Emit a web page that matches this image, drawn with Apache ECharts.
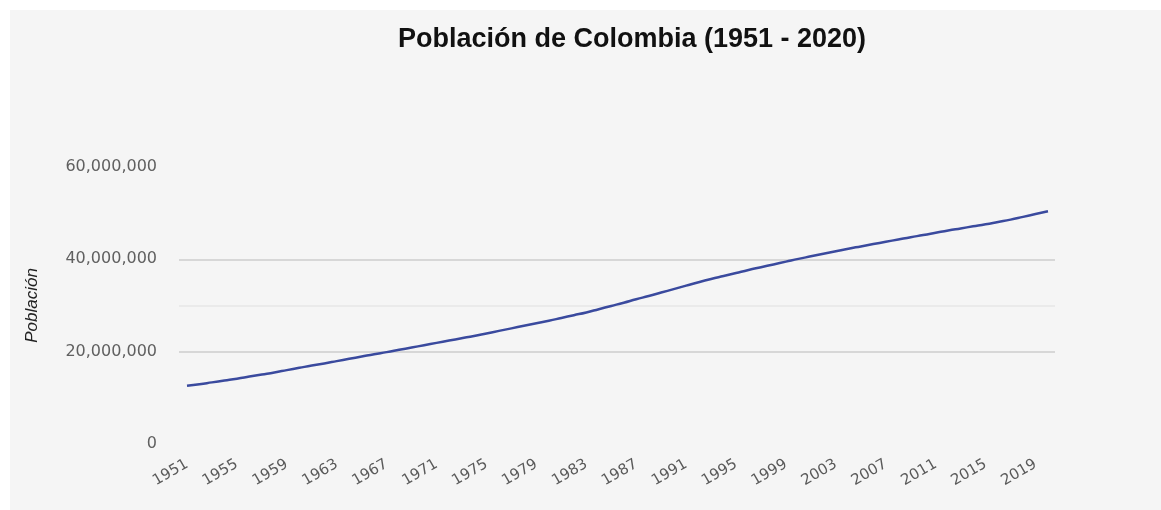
<!DOCTYPE html>
<html>
<head>
<meta charset="utf-8">
<title>Población de Colombia (1951 - 2020)</title>
<script src="https://cdn.jsdelivr.net/npm/echarts@6/dist/echarts.min.js"></script>
<style>
  html, body { margin: 0; padding: 0; background: #ffffff; }
  #chart { position: absolute; left: 10px; top: 10px; width: 1151px; height: 500px; background: #f5f5f5; }
</style>
</head>
<body>
<div id="chart"></div>
<script>
// Años de la serie (1951 - 2020)
const years = [];
for (let y = 1951; y <= 2020; y++) years.push(String(y));

// Población total por año
const population = [
  12600000, 12950000, 13350000, 13750000, 14150000, 14600000, 15050000, 15500000, 16000000, 16500000,
  17000000, 17450000, 17950000, 18450000, 18950000, 19450000, 19900000, 20400000, 20900000, 21400000,
  21900000, 22400000, 22900000, 23400000, 23950000, 24500000, 25050000, 25600000, 26150000, 26700000,
  27300000, 27900000, 28500000, 29200000, 29900000, 30600000, 31350000, 32050000, 32800000, 33550000,
  34300000, 35050000, 35750000, 36400000, 37050000, 37700000, 38300000, 38900000, 39500000, 40100000,
  40650000, 41200000, 41750000, 42300000, 42800000, 43300000, 43800000, 44300000, 44800000, 45250000,
  45750000, 46250000, 46700000, 47150000, 47600000, 48100000, 48600000, 49200000, 49800000, 50400000
];

// Escala del eje de población
const yMin = 0;
const yMax = 60000000;
const yStep = 10000000;
const yLabelStep = 20000000;

const titleText = 'Población de Colombia (1951 - 2020)';
const yAxisTitle = 'Población';

const chart = echarts.init(document.getElementById('chart'), null, { renderer: 'canvas' });

const labelFont = '"DejaVu Sans", sans-serif';

chart.setOption({
  backgroundColor: '#f5f5f5',
  animation: false,
  graphic: [{
    type: 'text',
    x: 622,
    y: 30,
    style: {
      text: titleText,
      font: 'bold 27px "Liberation Sans", Arial, sans-serif',
      fill: '#111111',
      align: 'center',
      verticalAlign: 'middle'
    }
  }],
  grid: [
    // cuadrícula de fondo con las líneas horizontales
    { left: 169, top: 157, width: 876, height: 277, containLabel: false },
    // área de trazado de la serie
    { left: 177, top: 157, width: 861, height: 277, containLabel: false }
  ],
  xAxis: [
    { gridIndex: 0, type: 'value', min: 0, max: 1, show: false },
    {
      gridIndex: 1,
      type: 'category',
      data: years,
      boundaryGap: false,
      axisLine: { show: false },
      axisTick: { show: false },
      splitLine: { show: false },
      axisLabel: {
        interval: 3,
        rotate: 30,
        margin: 19,
        fontFamily: labelFont,
        fontSize: 15,
        color: '#5a5a5a'
      }
    }
  ],
  yAxis: [
    {
      gridIndex: 0,
      type: 'value',
      min: yMin,
      max: yMax,
      interval: yStep,
      axisLine: { show: false },
      axisTick: { show: false },
      axisLabel: {
        margin: 22,
        fontFamily: labelFont,
        fontSize: 16,
        color: '#606060',
        formatter: v => (v % yLabelStep === 0 ? v.toLocaleString('en-US') : '')
      },
      splitLine: {
        show: true,
        lineStyle: {
          width: 1.5,
          color: ['rgba(0,0,0,0)', 'rgba(0,0,0,0)', '#cdcdcd', '#e6e6e6', '#cdcdcd', 'rgba(0,0,0,0)', 'rgba(0,0,0,0)']
        }
      },
      name: yAxisTitle,
      nameLocation: 'middle',
      nameGap: 138,
      nameTextStyle: {
        fontFamily: '"Liberation Sans", Arial, sans-serif',
        fontStyle: 'italic',
        fontSize: 17,
        color: '#222222'
      }
    },
    {
      gridIndex: 1,
      type: 'value',
      min: yMin,
      max: yMax,
      show: false
    }
  ],
  series: [{
    type: 'line',
    xAxisIndex: 1,
    yAxisIndex: 1,
    data: population,
    showSymbol: false,
    symbol: 'none',
    smooth: true,
    lineStyle: { color: '#3a4a9e', width: 2.5 }
  }]
});
</script>
</body>
</html>
